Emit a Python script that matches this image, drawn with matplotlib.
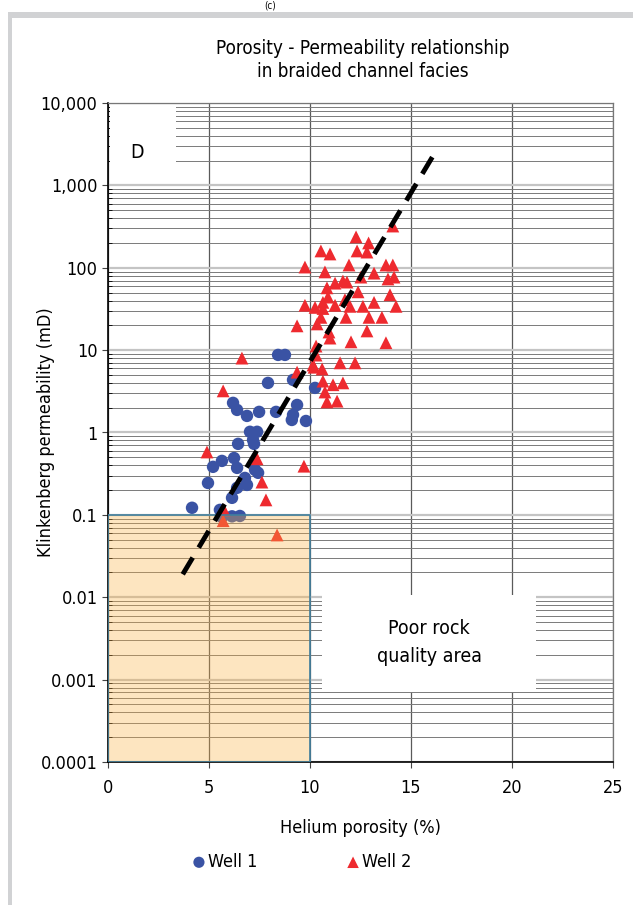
import matplotlib
matplotlib.use("Agg")
import matplotlib.pyplot as plt
from matplotlib.patches import Rectangle
from matplotlib.ticker import LogLocator, NullFormatter

plt.rcParams['font.family'] = ['DejaVu Sans']
plt.rcParams['font.stretch'] = 'condensed'

# Well 1 (circles)
w1_por = [4.16, 4.95, 5.20, 5.64, 6.24, 6.39, 6.44, 7.23, 6.78, 6.88, 6.39, 6.14,
          5.54, 6.53, 6.14, 5.64, 7.43, 7.28, 8.42, 8.76, 7.92, 6.19, 6.39, 6.88,
          7.48, 8.32, 9.36, 9.16, 9.10, 9.80, 7.03, 7.38, 7.18, 9.16, 10.25]
w1_perm = [0.122, 0.244, 0.383, 0.452, 0.49, 0.372, 0.728, 0.728, 0.281, 0.231, 0.213, 0.161,
           0.115, 0.097, 0.096, 0.094, 0.324, 0.352, 8.75, 8.75, 4.0, 2.29, 1.88, 1.59,
           1.78, 1.78, 2.16, 1.64, 1.42, 1.38, 1.02, 1.02, 0.81, 4.35, 3.48]

# Well 2 (triangles)
w2_por = [14.1, 12.28, 12.9, 10.54, 10.99, 12.33, 12.82, 9.75, 11.93, 10.74, 13.17, 13.76,
          14.1, 13.86, 14.16, 11.24, 11.63, 11.83, 12.52, 10.84, 12.38, 10.89, 13.96, 9.75,
          10.25, 10.64, 10.64, 11.24, 11.73, 11.98, 12.62, 13.17, 14.26, 10.54, 11.78, 12.92,
          13.56, 9.36, 10.35, 10.94, 12.82, 12.03, 13.76, 10.3, 10.99, 10.3, 9.36, 10.2,
          10.6, 11.49, 12.23, 10.64, 11.14, 11.63, 10.74, 10.84, 11.34, 10.15, 6.63, 5.7,
          4.9, 7.38, 9.7, 7.62, 7.82, 5.74, 5.7, 8.37]
w2_perm = [321, 237, 200, 160, 147, 160, 155, 102, 108, 89, 86, 108,
           108, 73, 77, 65, 69, 67, 77, 57, 51, 44, 47, 35,
           33, 38, 32, 35, 41, 34, 34, 38, 34, 25, 25, 25,
           25, 19.7, 20.8, 16.6, 17.1, 12.6, 12.3, 11.2, 14.0, 8.7, 5.4, 6.2,
           5.9, 7.0, 7.0, 4.2, 3.8, 4.0, 3.1, 2.35, 2.4, 6.6, 8.0, 3.2,
           0.58, 0.48, 0.39, 0.25, 0.152, 0.115, 0.085, 0.057]

trend_x = [3.7, 16.1]
trend_y = [0.019, 2300]

yticks = [0.0001, 0.001, 0.01, 0.1, 1, 10, 100, 1000, 10000]
ylabels = ['0.0001', '0.001', '0.01', '0.1', '1', '10', '100', '1,000', '10,000']

fig = plt.figure(figsize=(6.33, 9.05), dpi=100)

# gray frame
fig.patches.append(Rectangle((8 / 633, 0), 4 / 633, (905 - 12) / 905, transform=fig.transFigure,
                             facecolor='#d1d2d4', edgecolor='none'))
fig.patches.append(Rectangle((8 / 633, (905 - 18) / 905), 1, 6 / 905, transform=fig.transFigure,
                             facecolor='#d1d2d4', edgecolor='none'))
fig.text(0.427, 0.9995, '(c)', ha='center', va='top', fontsize=7)

ax = fig.add_axes([108 / 633, (905 - 762) / 905, 505 / 633, 659 / 905])
ax.set_yscale('log')
ax.set_xlim(0, 25)
ax.set_ylim(0.0001, 10000)

ax.yaxis.set_major_locator(LogLocator(base=10, numticks=20))
ax.yaxis.set_minor_locator(LogLocator(base=10, subs=range(2, 10), numticks=100))
ax.yaxis.set_minor_formatter(NullFormatter())
ax.set_yticks(yticks)
ax.set_yticklabels(ylabels)
ax.set_xticks([0, 5, 10, 15, 20, 25])

ax.grid(axis='y', which='major', color='#c4c4c4', lw=1.6, zorder=0)
ax.grid(axis='y', which='minor', color='#7a7a7a', lw=0.7, zorder=0)
ax.grid(axis='x', which='major', color='#5a5a5a', lw=0.9, zorder=0)
ax.set_axisbelow(True)

ax.tick_params(axis='both', which='major', labelsize=13, length=4, color='#444444')
ax.tick_params(axis='y', which='minor', length=3, direction='in')
ax.tick_params(axis='x', pad=8)
for s in ['top', 'right']:
    ax.spines[s].set_color('#777777')
    ax.spines[s].set_linewidth(0.9)
for s in ['left', 'bottom']:
    ax.spines[s].set_color('black')
    ax.spines[s].set_linewidth(1.2)

# white label boxes covering grid
ax.add_patch(Rectangle((0.1, 1900), 3.27, 9500 - 1900, facecolor='white', edgecolor='none', zorder=1))
ax.add_patch(Rectangle((10.6, 0.0007), 10.6, 0.0107 - 0.0007, facecolor='white', edgecolor='none', zorder=1))
ax.text(1.44, 2540, 'D', fontsize=14, ha='center', va='center', zorder=2)
ax.text(15.9, 0.0028, 'Poor rock\nquality area', fontsize=14, ha='center', va='center',
        linespacing=1.6, zorder=2)

ax.scatter(w1_por, w1_perm, s=80, marker='o', color='#3a53a4', edgecolors='none', zorder=3, label='Well 1')
ax.scatter(w2_por, w2_perm, s=85, marker='^', color='#ee2a2f', edgecolors='none', zorder=3, label='Well 2')
ax.plot(trend_x, trend_y, color='black', lw=3.5, ls=(0, (4, 2.4)), zorder=6)

# poor quality region
ax.add_patch(Rectangle((0, 0.0001), 10, 0.1 - 0.0001, facecolor='#fbb040', alpha=0.33,
                       edgecolor='none', zorder=5))
ax.add_patch(Rectangle((0, 0.0001), 10, 0.1 - 0.0001, fill=False, edgecolor='#3f7f9e',
                       lw=1.2, zorder=5))

ax.set_xlabel('Helium porosity (%)', fontsize=13, labelpad=16)
ax.set_ylabel('Klinkenberg permeability (mD)', fontsize=13)
ax.yaxis.set_label_coords(-0.105, 0.5)
fig.text(363 / 633, (905 - 60) / 905, 'Porosity - Permeability relationship\nin braided channel facies',
         ha='center', va='center', fontsize=13.5, linespacing=1.3)

fig.legend(handles=ax.collections[:2], labels=['Well 1', 'Well 2'], loc='center',
           bbox_to_anchor=(0.475, 0.0475), ncol=2, frameon=False, fontsize=13,
           handletextpad=0.0, columnspacing=4.8, markerscale=0.9, handlelength=1)

fig.savefig('out.png', dpi=100)
